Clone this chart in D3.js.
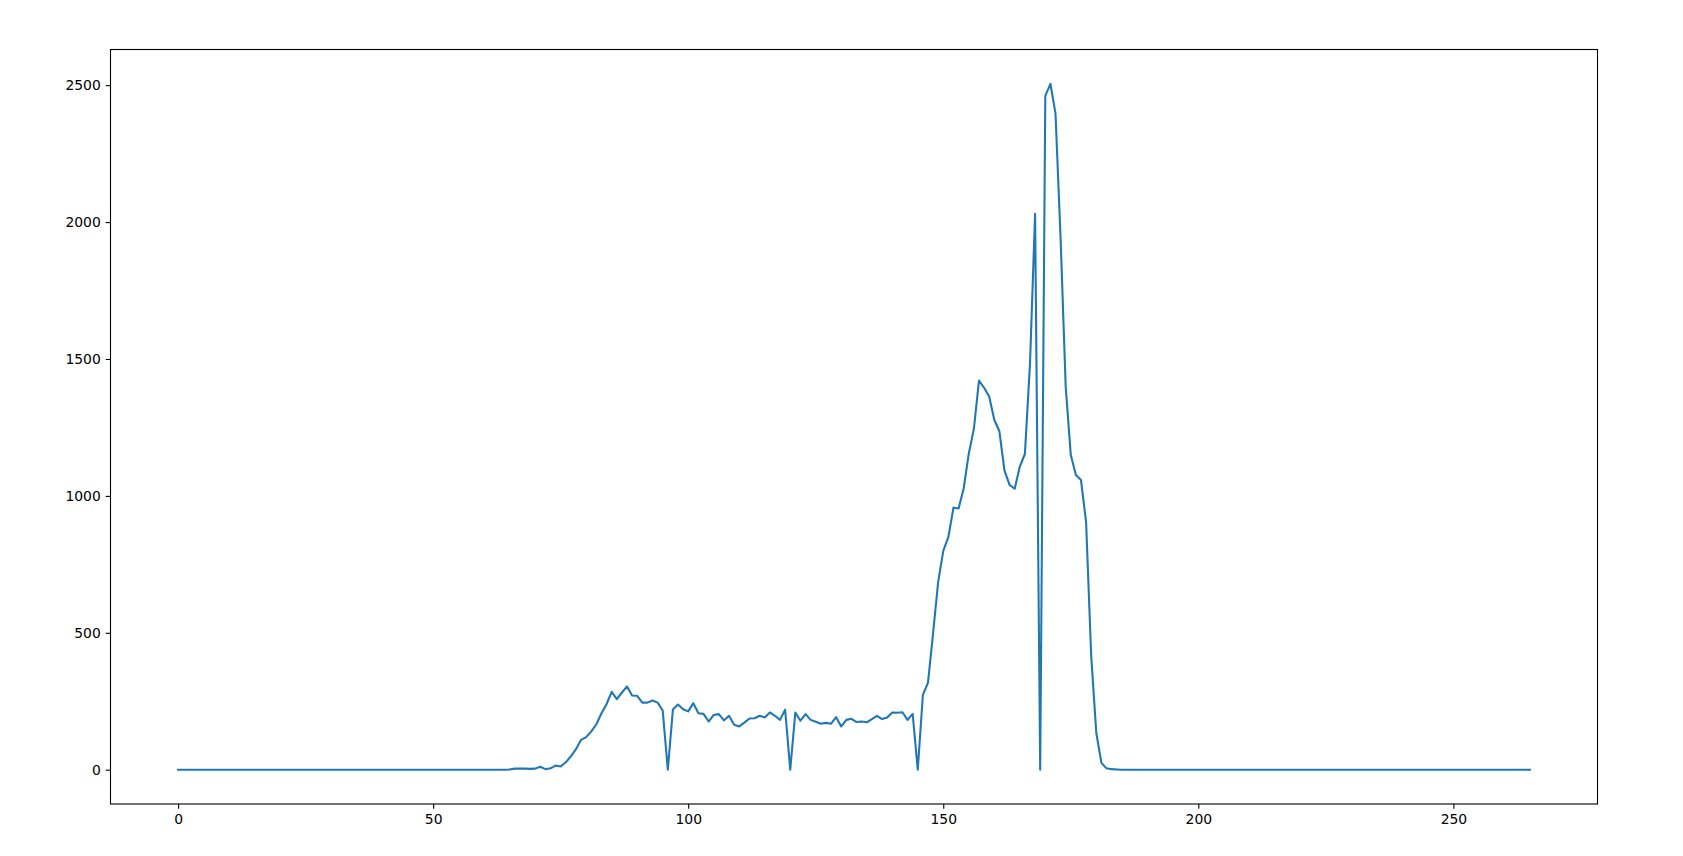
<!DOCTYPE html>
<html>
<head>
<meta charset="utf-8">
<script src="https://cdn.jsdelivr.net/npm/d3@7"></script>
<style>
  html, body { margin: 0; padding: 0; background: #fff; }
  svg { display: block; }
  .tick text { font-family: "DejaVu Sans", sans-serif; font-size: 13.9px; fill: #000; }
</style>
</head>
<body>
<svg id="chart" width="1683" height="856"></svg>
<script>
// ---- data ----
const xStart = 0;
const leadingZeros = 64;   // x = 0..63 are zero
const activeValues = [
  0, 1, 4, 4, 4, 3, 4, 11, 2, 5,          // 64-73
  15, 12, 27, 49, 75, 109, 119, 140, 166, 206, // 74-83
  240, 284, 258, 282, 304, 271, 270, 245, 245, 253, // 84-93
  245, 216, 0, 220, 238, 221, 213, 243, 206, 204, // 94-103
  176, 200, 203, 180, 197, 164, 158, 172, 187, 188, // 104-113
  197, 191, 209, 197, 182, 219, 0, 209, 179, 203, // 114-123
  182, 175, 168, 171, 168, 192, 158, 182, 186, 174, // 124-133
  176, 173, 185, 197, 185, 191, 209, 208, 210, 182, // 134-143
  204, 0, 273, 317, 498, 686, 799, 850, 957, 954,   // 144-153
  1027, 1154, 1245, 1421, 1395, 1363, 1278, 1236, 1092, 1040, // 154-163
  1026, 1107, 1153, 1482, 2030, 0, 2461, 2505, 2397, 1940, // 164-173
  1398, 1149, 1076, 1058, 903, 415, 134, 25, 5, 2,  // 174-183
  1                                           // 184
];
const totalPoints = 266;   // x = 0..265
const values = [];
for (let i = 0; i < leadingZeros; i++) values.push(0);
activeValues.forEach(v => values.push(v));
while (values.length < totalPoints) values.push(0);
const points = values.map((v, i) => ({x: xStart + i, y: v}));

const xTicks = [0, 50, 100, 150, 200, 250];
const yTicks = [0, 500, 1000, 1500, 2000, 2500];

// ---- layout ----
const plotLeft = 110.5, plotRight = 1597.5, plotTop = 49.5, plotBottom = 804;
const svg = d3.select("#chart");

const xMin = 0, xMax = totalPoints - 1;
const xPad = (xMax - xMin) * 0.05;
const yMaxData = d3.max(values), yMinData = 0;
const yPad = (yMaxData - yMinData) * 0.05;

const x = d3.scaleLinear().domain([xMin - xPad, xMax + xPad]).range([plotLeft, plotRight]);
const y = d3.scaleLinear().domain([yMinData - yPad, yMaxData + yPad]).range([plotBottom, plotTop]);

// line
svg.append("path")
  .datum(points)
  .attr("fill", "none")
  .attr("stroke", "#1f77b4")
  .attr("stroke-width", 2.08)
  .attr("stroke-linejoin", "round")
  .attr("stroke-linecap", "square")
  .attr("d", d3.line().x(d => x(d.x)).y(d => y(d.y)));

// axes
const xAxis = d3.axisBottom(x).tickValues(xTicks).tickSize(4.86).tickPadding(4.86).tickFormat(d3.format("d"));
const yAxis = d3.axisLeft(y).tickValues(yTicks).tickSize(4.86).tickPadding(4.86).tickFormat(d3.format("d"));

const gx = svg.append("g").attr("transform", `translate(0,${plotBottom})`).call(xAxis);
const gy = svg.append("g").attr("transform", `translate(${plotLeft},0)`).call(yAxis);
[gx, gy].forEach(g => {
  g.select(".domain").remove();
  g.selectAll(".tick line").attr("stroke", "#000").attr("stroke-width", 1.1);
});
gx.selectAll(".tick text").attr("dy", "0.71em");

// frame
svg.append("rect")
  .attr("x", plotLeft).attr("y", plotTop)
  .attr("width", plotRight - plotLeft).attr("height", plotBottom - plotTop)
  .attr("fill", "none").attr("stroke", "#000").attr("stroke-width", 1.1);
</script>
</body>
</html>
